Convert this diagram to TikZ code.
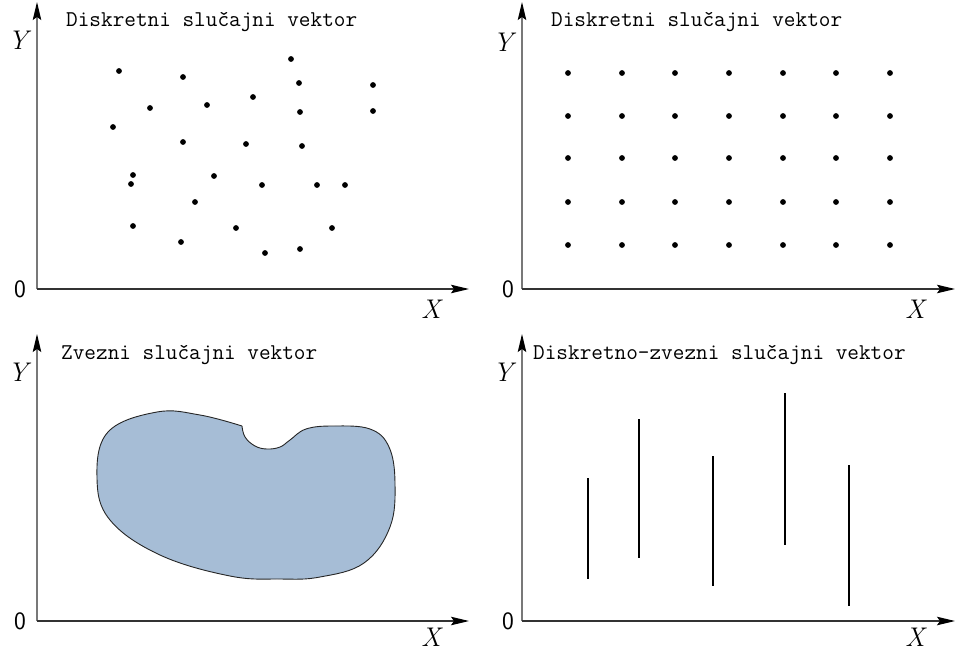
\documentclass[tikz,border=0pt]{standalone}
\usetikzlibrary{arrows.meta}
\definecolor{blobfill}{RGB}{166,189,214}
\definecolor{axisgray}{RGB}{120,120,120}
\begin{document}
\begin{tikzpicture}[x=1pt,y=-1pt,
  yaxis/.style={draw=axisgray,line width=1.2pt,-{Stealth[length=18pt,width=8.5pt,inset=3pt,black]}},
  xaxis/.style={draw=black!80,line width=1.2pt,-{Stealth[length=18pt,width=8.5pt,inset=3pt,black]}},
  ttl/.style={anchor=west,inner sep=0pt,font=\fontsize{22.6}{26}\selectfont\ttfamily},
  lbl/.style={inner sep=0pt,font=\fontsize{27}{30}\selectfont\itshape},
  zero/.style={inner sep=0pt,font=\fontsize{25}{28}\selectfont\sffamily},
  pt/.style={fill=black,circle,inner sep=0pt,minimum size=5.8pt},
  seg/.style={line width=2.5pt,black}]
\useasboundingbox (0,0) rectangle (968,651);
% ---------- panel 1
\coordinate (o1) at (37,289);
\coordinate (y1) at (37,2);
\coordinate (x1) at (469,289);
\draw[yaxis] (o1) -- (y1);
\draw[xaxis] (o1) -- (x1);
\node[zero] (z1) at (20,289) {0};
\node[lbl] (Y1) at (18,40) {Y};
\node[lbl] (X1) at (431,309) {X};
\node[ttl] (t1) at (66,22) {Diskretni slu\v{c}ajni vektor};
\foreach \p [count=\i] in {(119,71),(183,77),(291,59),(299,83),(373,85),(150,108),(207,105),(253,97),(300,112),(373,111),(113,127),(183,142),(246,144),(302,146),(133,175),(131,184),(214,176),(262,185),(317,185),(345,185),(195,202),(133,226),(181,242),(236,228),(332,228),(265,253),(300,249)}
  \node[pt] (a\i) at \p {};
% ---------- panel 2
\coordinate (o2) at (522,289);
\coordinate (y2) at (522,2);
\coordinate (x2) at (955,289);
\draw[yaxis] (o2) -- (y2);
\draw[xaxis] (o2) -- (x2);
\node[zero] (z2) at (508,289) {0};
\node[lbl] (Y2) at (503,42) {Y};
\node[lbl] (X2) at (915,309) {X};
\node[ttl] (t2) at (551,22) {Diskretni slu\v{c}ajni vektor};
\foreach \xx [count=\i] in {568,622,675,729,783,836,890}
  \foreach \yy [count=\j] in {73,116,158,202,245}
    \node[pt] (g\i\j) at (\xx,\yy) {};
% ---------- panel 3
\coordinate (o3) at (37,621);
\coordinate (y3) at (37,334);
\coordinate (x3) at (469,621);
\draw[yaxis] (o3) -- (y3);
\draw[xaxis] (o3) -- (x3);
\node[zero] (z3) at (20,621) {0};
\node[lbl] (Y3) at (18,372) {Y};
\node[lbl] (X3) at (431,637) {X};
\node[ttl] (t3) at (61,355) {Zvezni slu\v{c}ajni vektor};
\draw[fill=blobfill,draw=black!85,line width=0.9pt] plot[smooth,tension=0.65] coordinates {(242,426) (245,437) (255,446) (267,449) (280,447) (290,440) (306,429) (333,426) (370,429) (389,447) (395,483) (390,527) (364,563) (320,577) (280,579) (230,576) (160,555) (110,520) (97,478) (108,432) (157,412) (200,415) (242,426)};
% ---------- panel 4
\coordinate (o4) at (522,621);
\coordinate (y4) at (522,334);
\coordinate (x4) at (955,621);
\draw[yaxis] (o4) -- (y4);
\draw[xaxis] (o4) -- (x4);
\node[zero] (z4) at (508,621) {0};
\node[lbl] (Y4) at (503,372) {Y};
\node[lbl] (X4) at (915,637) {X};
\node[ttl] (t4) at (533,355) {Diskretno-zvezni slu\v{c}ajni vektor};
\coordinate (s1a) at (588,478); \coordinate (s1b) at (588,579);
\coordinate (s2a) at (639,419); \coordinate (s2b) at (639,558);
\coordinate (s3a) at (713,456); \coordinate (s3b) at (713,586);
\coordinate (s4a) at (785,393); \coordinate (s4b) at (785,545);
\coordinate (s5a) at (849,465); \coordinate (s5b) at (849,606);
\foreach \i in {1,...,5} \draw[seg] (s\i a) -- (s\i b);
\end{tikzpicture}
\end{document}
